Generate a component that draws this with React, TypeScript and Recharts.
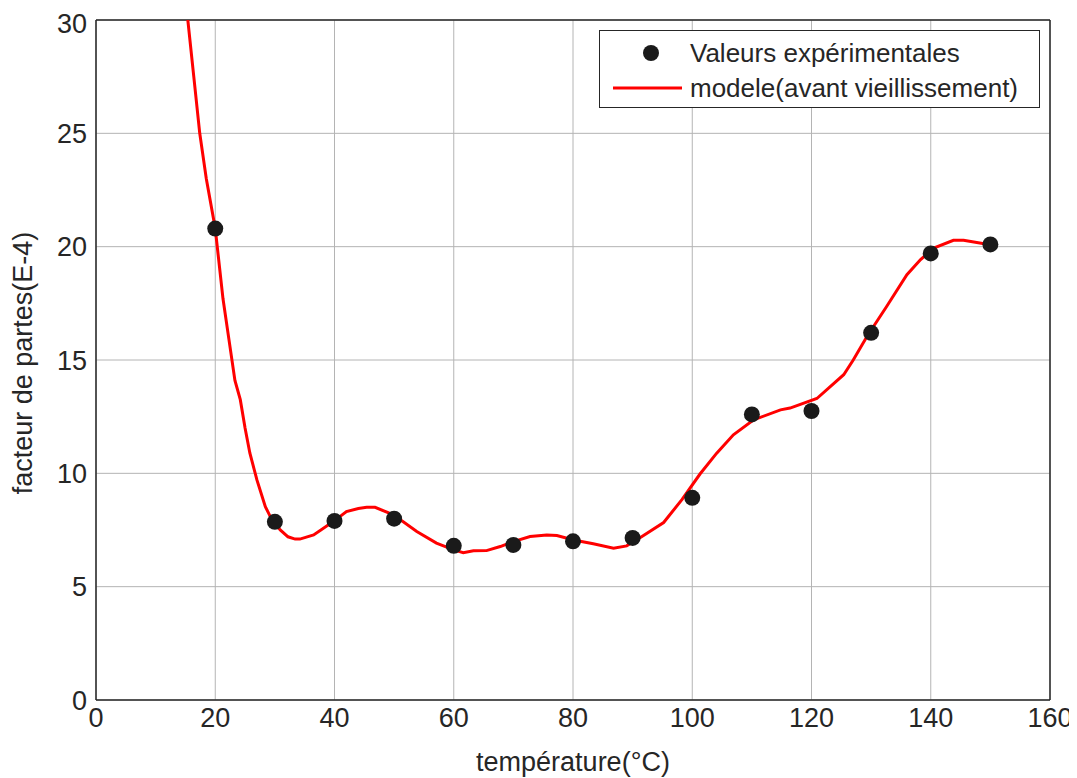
import React from 'react';
import { ComposedChart, Line, Scatter, XAxis, YAxis, CartesianGrid, ReferenceLine } from 'recharts';

const expTemps = [20, 30, 40, 50, 60, 70, 80, 90, 100, 110, 120, 130, 140, 150];
const expValues = [20.8, 7.86, 7.9, 8.0, 6.8, 6.84, 7.0, 7.15, 8.92, 12.6, 12.75, 16.2, 19.7, 20.1];

const modelTemps = [15.0, 15.4, 16.4, 17.4, 18.5, 20, 21.3, 22.3, 23.3, 24.2, 25.0, 25.8, 27.0, 28.4, 29.5, 30.9, 32.2, 33.4, 34.2, 36.5, 39.8, 42.0, 44.0, 45.4, 46.8, 49.9, 53.8, 57.1, 60.0, 61.6, 63.3, 65.5, 67.8, 70.0, 72.8, 75.6, 77.3, 80.1, 83.4, 86.8, 89.0, 91.5, 95.2, 98.3, 101.3, 104.1, 106.9, 110.3, 114.8, 116.4, 120.9, 125.4, 127.0, 129.3, 132.6, 136.0, 138.3, 140.5, 143.8, 145.5, 149.7];
const modelValues = [31.2, 30, 27.5, 25, 23, 20.8, 17.7, 15.9, 14.1, 13.25, 12.0, 10.9, 9.7, 8.53, 7.95, 7.5, 7.2, 7.1, 7.1, 7.28, 7.87, 8.31, 8.45, 8.5, 8.5, 8.17, 7.43, 6.92, 6.62, 6.5, 6.58, 6.59, 6.77, 6.99, 7.21, 7.28, 7.26, 7.06, 6.89, 6.7, 6.8, 7.2, 7.83, 8.85, 9.97, 10.89, 11.7, 12.36, 12.8, 12.88, 13.3, 14.35, 15.0, 16.04, 17.36, 18.76, 19.43, 19.94, 20.28, 20.28, 20.1];

const xTicks = [0, 20, 40, 60, 80, 100, 120, 140, 160];
const yTicks = [0, 5, 10, 15, 20, 25, 30];

const expData = expTemps.map((x, i) => ({ x, y: expValues[i] }));
const modelData = modelTemps.map((x, i) => ({ x, y: modelValues[i] }));

const FONT = '"Liberation Sans", Arial, Helvetica, sans-serif';
const TEXT = '#262626';

const Dot = (props: any) => {
  const { cx, cy } = props;
  if (cx == null || cy == null) return null;
  return <circle cx={cx} cy={cy} r={8} fill="#1a1a1a" />;
};

export default function App() {
  return (
    <div style={{ position: 'relative', width: 1069, height: 770, fontFamily: FONT }}>
      <ComposedChart width={1069} height={770} margin={{ top: 12, right: 27, bottom: 8, left: 0 }}>
        <CartesianGrid stroke="#b4b4b4" strokeWidth={1} />
        <XAxis
          type="number"
          dataKey="x"
          domain={[0, 160]}
          ticks={xTicks}
          allowDataOverflow
          height={70}
          tickSize={0}
          tickMargin={8}
          axisLine={{ stroke: TEXT, strokeWidth: 1.5 }}
          tick={{ fill: TEXT, fontSize: 27, fontFamily: FONT }}
          label={{ value: 'température(°C)', position: 'center', dy: 26, fill: TEXT, fontSize: 27, fontFamily: FONT }}
        />
        <YAxis
          type="number"
          dataKey="y"
          domain={[0, 30]}
          ticks={yTicks}
          allowDataOverflow
          width={88}
          tickSize={0}
          tickMargin={9}
          axisLine={{ stroke: TEXT, strokeWidth: 1.5 }}
          tick={{ fill: TEXT, fontSize: 27, fontFamily: FONT }}
          label={{ value: 'facteur de partes(E-4)', position: 'center', angle: -90, dx: -30, dy: 3, fill: TEXT, fontSize: 27, fontFamily: FONT }}
        />
        <ReferenceLine y={30} stroke={TEXT} strokeWidth={1.5} />
        <ReferenceLine x={160} stroke={TEXT} strokeWidth={1.5} />
        <Line
          data={modelData}
          dataKey="y"
          type="linear"
          stroke="#ff0000"
          strokeWidth={3}
          dot={false}
          activeDot={false}
          isAnimationActive={false}
        />
        <Scatter data={expData} dataKey="y" shape={Dot} isAnimationActive={false} />
      </ComposedChart>
      <div
        style={{
          position: 'absolute',
          left: 591,
          top: 22,
          width: 441,
          height: 78,
          border: '1.5px solid #262626',
          background: '#fff',
          boxSizing: 'border-box',
          fontSize: 26,
          color: TEXT,
          fontFamily: FONT,
        }}
      >
        <svg width={90} height={78} style={{ position: 'absolute', left: 0, top: 0 }}>
          <circle cx={51} cy={22} r={8} fill="#1a1a1a" />
          <line x1={13} y1={57} x2={82} y2={57} stroke="#ff0000" strokeWidth={3} />
        </svg>
        <div style={{ position: 'absolute', left: 90, top: 7, whiteSpace: 'nowrap', lineHeight: '30px' }}>Valeurs expérimentales</div>
        <div style={{ position: 'absolute', left: 90, top: 42, whiteSpace: 'nowrap', lineHeight: '30px' }}>modele(avant vieillissement)</div>
      </div>
    </div>
  );
}
